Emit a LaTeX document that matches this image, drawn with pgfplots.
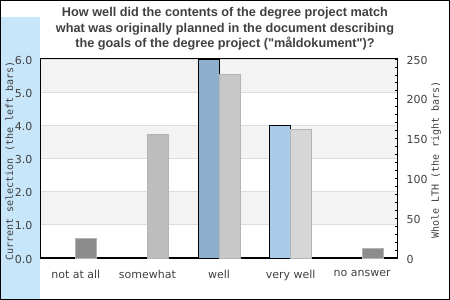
\documentclass[border=0pt]{standalone}
\usepackage{pgfplots}
\pgfplotsset{compat=1.18}
\usepackage{fontspec}
\setmainfont{DejaVu Sans}
\newfontfamily\titlefont{Liberation Sans}
\newfontfamily\monofont{DejaVu Sans Mono}
\definecolor{stripblue}{HTML}{C8E6FA}
\definecolor{band}{HTML}{F3F3F3}
\definecolor{gridc}{HTML}{DDDDDD}
\definecolor{textgray}{HTML}{404040}
\definecolor{wellblue}{HTML}{8EB0CC}
\definecolor{vwblue}{HTML}{ABCCE8}
\definecolor{g1}{HTML}{8C8C8C}
\definecolor{g2}{HTML}{BDBDBD}
\definecolor{g3}{HTML}{C8C8C8}
\definecolor{g4}{HTML}{D6D6D6}
\definecolor{gborder}{HTML}{B4B4B4}
\begin{document}
\begin{tikzpicture}[x=1pt,y=1pt]
\begin{axis}[set layers,
  at={(40pt,42pt)}, anchor=south west, scale only axis,
  width=358pt, height=199pt,
  xmin=-0.5, xmax=4.5, ymin=0, ymax=6,
  axis line style={black, line width=1pt},
  ytick={0,1,2,3,4,5,6},
  xtick={0,1,2,3,4},
  xticklabels={not at all, somewhat, well, very well, no answer},
  major tick length=0pt,
  ymajorgrids, grid style={gridc, line width=0.8pt},
  ticklabel style={font=\fontsize{11}{13}\selectfont, text=textgray},
  yticklabel style={xshift=-4pt, yshift=-1pt, /pgf/number format/fixed, /pgf/number format/fixed zerofill, /pgf/number format/precision=1},
  xticklabel style={yshift=-9pt},
  /pgf/number format/assume math mode=true,
]
\begin{pgfonlayer}{axis background}
\fill[stripblue] ([xshift=-40pt, yshift=-42pt]rel axis cs:0,0) rectangle ([yshift=42pt]rel axis cs:0,1);
\fill[band] (axis cs:-0.5,1) rectangle (axis cs:4.5,2);
\fill[band] (axis cs:-0.5,3) rectangle (axis cs:4.5,4);
\fill[band] (axis cs:-0.5,5) rectangle (axis cs:4.5,6);
\end{pgfonlayer}
\addplot[ybar, bar width=21pt, bar shift=-10.5pt, fill=wellblue, draw=black, line width=0.9pt] coordinates {(2,6)};
\addplot[ybar, bar width=21pt, bar shift=-10.5pt, fill=vwblue, draw=black, line width=0.9pt] coordinates {(3,4)};
\end{axis}
\begin{axis}[
  at={(40pt,42pt)}, anchor=south west, scale only axis,
  width=358pt, height=199pt,
  xmin=-0.5, xmax=4.5, ymin=0, ymax=250,
  axis x line*=bottom, axis y line*=right,
  axis line style={black, line width=1pt},
  xtick=\empty,
  ytick={0,50,100,150,200,250},
  minor y tick num=4,
  tick align=inside,
  major tick length=3pt, minor tick length=3pt,
  tick style={black, line width=0.8pt},
  ticklabel style={font=\fontsize{11}{13}\selectfont, text=textgray},
  yticklabel style={xshift=5pt, yshift=-1pt},
  /pgf/number format/assume math mode=true,
]
\addplot[ybar, bar width=21pt, bar shift=10.5pt, fill=g1, draw=gborder, line width=0.9pt] coordinates {(0,24)};
\addplot[ybar, bar width=21pt, bar shift=10.5pt, fill=g2, draw=gborder, line width=0.9pt] coordinates {(1,155)};
\addplot[ybar, bar width=21pt, bar shift=10.5pt, fill=g3, draw=gborder, line width=0.9pt] coordinates {(2,231)};
\addplot[ybar, bar width=21pt, bar shift=10.5pt, fill=g4, draw=gborder, line width=0.9pt] coordinates {(3,161)};
\addplot[ybar, bar width=21pt, bar shift=10.5pt, fill=g1, draw=gborder, line width=0.9pt] coordinates {(4,12)};
\end{axis}
\node[rotate=90, font=\monofont\fontsize{10}{12}\selectfont, text=textgray, inner sep=0pt] at (10,139) {Current selection (the left bars)};
\node[rotate=90, font=\monofont\fontsize{10}{12}\selectfont, text=textgray, inner sep=0pt] at (436,140) {Whole LTH (the right bars)};
\begin{scope}[every node/.style={font=\titlefont\bfseries\fontsize{12.7}{15.5}\selectfont, text=textgray, inner sep=0pt, anchor=base}]
\node at (225,283.3) {How well did the contents of the degree project match};
\node at (225,267.7) {what was originally planned in the document describing};
\node at (225,252.3) {the goals of the degree project ("måldokument")?};
\end{scope}
\draw[black, line width=1pt] (0.5,0.5) rectangle (449.5,299.5);
\end{tikzpicture}
\end{document}
